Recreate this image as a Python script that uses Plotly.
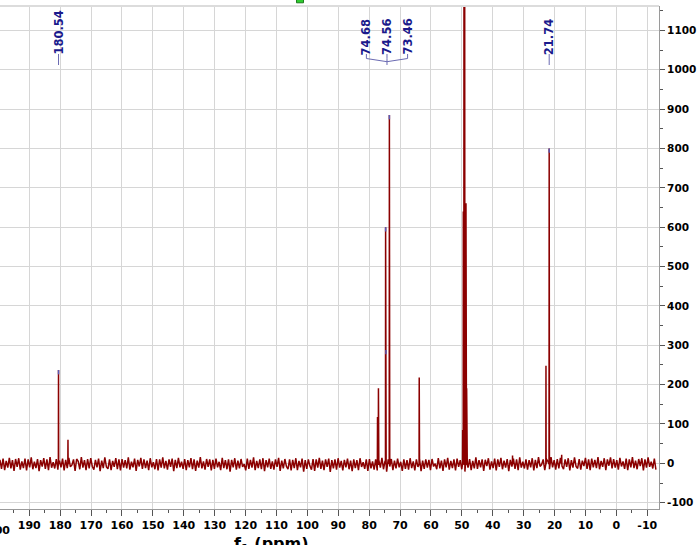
import numpy as np
import plotly.graph_objects as go

# ---------------- data ----------------
noise_ppm_start = 199.5
noise_ppm_end = -12.8
noise_values = [
    9, -14, 12, -17, 6, -11, 14, -13, 8, -19, 11, -9, 13, -16, 5, -12, 12, -18, 10, -10,
    15, -15, 4, -12, 11, -20, 8, -8, 13, -14, 10, -17, 16, -11, 3, -13, 11, -16, 7, -10,
    12, -18, 9, -12, 14, -9, -4, 10, -19, 11, 5, -15, 16, -11, 8, -17, 11, -13, 13, -8,
    -16, 9, -10, 12, -20, 7, -12, 15, -9, -14, 10, -17, 6, -9, 13, -15, 10, -18, 11, -11,
    8, -13, 15, -16, 4, -10, 12, -19, 9, -8, 14, -14, 10, -12, 7, -17, 13, -10, 3, -15,
    11, -18, 10, -11, 15, -13, 6, -16, 10, -9, 12, -20, 9, -12, 14, -10, 4, -14, 11, -17,
    8, -10, 13, -15, 10, -19, 7, -11, 16, -13, 5, -16, 11, -9, 10, -18, 9, -14, 12, -10,
    4, -17, 14, -12, 8, -15, 10, -21, 9, -10, 13, -16, 7, -13, 11, -9, -2, -18, 12, -14,
    9, -11, 15, -17, 6, -12, 10, -15, 13, -20, 8, -10, 12, -14, 5, -16, 10, -9, 14, -19,
    7, -13, 11, -8, -15, 10, -18, 9, -12, 13, -17, 6, -10, 12, -21, 8, -14, 10, -7, -16,
    11, -19, 10, -11, 14, -14, 7, -17, 10, -9, 12, -22, 8, -13, 10, -16, 13, -11, 6, -18,
    9, -10, 12, -15, 7, -20, 10, -12, 8, -17, 13, -9, 3, -14, 10, -19, 11, -13, 5, -16,
    10, -18, 9, -11, 14, -15, 6, -21, 10, -8, 11, -17, 7, -13, 12, -10, 4, -19, 10, -14,
    8, -16, 13, -12, 5, -18, 10, -9, 12, -20, 7, -14, 10, -11, 9, -17, 11, -8, -1, -15,
    13, -13, 7, -19, 10, -10, 14, -16, 6, -12, 10, -18, 12, -9, 8, -15, 10, -21, 9, -11,
    11, -17, 6, -13, 15, -14, 8, -10, 10, -19, 9, -7, 13, -16, 5, -12, 12, -18, 10, -9,
    14, -15, 7, -11, 11, -20, 9, -8, 12, -14, 10, -17, 15, -11, 4, -13, 10, -16, 8, -10,
    13, -18, 9, -12, 16, -8, -3, 10, -17, 11, 5, -15, 16, -10, 8, -16, 11, -13, 14, -7,
    -15, 10, -9, 13, -18, 8, -11, 15, -8, -13, 11, -16, 7, -7, 14, -14, 10, -17, 12, -10,
    9, -12, 16, -15, 6, -9, 13, -17, 10, -6, 15, -13, 11, -11, 8, -16, 14, -8, 5, -14,
    12, -17, 10, -10, 16, -12, 7, -15, 11, -7, 13, -18, 10, -11, 15, -9, 4, -13, 12, -16,
]

peak_ppm = [180.54, 177.48, 77.30, 77.00, 74.68, 74.56, 73.46, 63.80,
            49.74, 49.53, 49.32, 49.10, 48.88, 48.67, 48.45, 48.30,
            33.60, 22.78, 21.74, 17.70]
peak_height = [237, 60, 118, 191, 600, 288, 885, 218,
               85, 640, 1290, 1500, 1290, 661, 191, 59,
               20, 248, 800, 22]

picked_ppm = [180.54, 74.68, 74.56, 73.46, 21.74]
picked_height = [237, 600, 288, 885, 800]
picked_labels = ["180.54", "74.68", "74.56", "73.46", "21.74"]
picked_groups = [[0], [1, 2, 3], [4]]

x_tick_vals = [190, 180, 170, 160, 150, 140, 130, 120, 110, 100, 90, 80, 70,
               60, 50, 40, 30, 20, 10, 0, -10]
x_tick_text = ["190", "180", "170", "160", "150", "140", "130", "120", "110",
               "100", "90", "80", "70", "60", "50", "40", "30", "20", "10",
               "0", "-10"]
x_cut_label = "200"
y_tick_vals = [-100, 0, 100, 200, 300, 400, 500, 600, 700, 800, 900, 1000, 1100]
y_tick_text = ["-100", "0", "100", "200", "300", "400", "500", "600", "700",
               "800", "900", "1000", "1100"]
x_title = "f<sub>1</sub> (ppm)"

# ---------------- layout geometry ----------------
W, H = 697, 545
ML, MR, MT, MB = 0, 38, 6, 36
PW = W - ML - MR
PH = H - MT - MB
X_LEFT, X_RIGHT = 199.48, -13.8
Y_LOW, Y_HIGH = -116, 1162
PX_PER_PPM = PW / (X_LEFT - X_RIGHT)
PLOT_BOTTOM = H - MB


def py2paper(py):
    return (PLOT_BOTTOM - py) / PH


def px2paper(px):
    return (px - ML) / PW


# ---------------- build spectrum trace ----------------
noise_x = np.linspace(noise_ppm_start, noise_ppm_end, len(noise_values))
pts = list(zip(noise_x.tolist(), noise_values))
half_w = 0.05
base = -2
for p, h in zip(peak_ppm, peak_height):
    pts.append((p + half_w, base))
    pts.append((p, h))
    pts.append((p - half_w, base))
pts.sort(key=lambda t: -t[0])
spec_x = [t[0] for t in pts]
spec_y = [t[1] for t in pts]

fig = go.Figure()
fig.add_trace(go.Scatter(x=spec_x, y=spec_y, mode="lines",
                         line=dict(color="#8b0000", width=1.5),
                         hoverinfo="skip", showlegend=False))

# blue tips on picked peaks
bx, by = [], []
for p, h in zip(picked_ppm, picked_height):
    bx += [p, p, None]
    by += [h - 11, h, None]
fig.add_trace(go.Scatter(x=bx, y=by, mode="lines",
                         line=dict(color="#5a5ab4", width=1.5),
                         hoverinfo="skip", showlegend=False))

# ---------------- peak labels ----------------
label_color = "#1a1a8c"
conn_color = "#6a6ab2"
LABEL_SPREAD_PX = 20.6
text_bottom_py = 56
annotations = []
shapes = []
for grp in picked_groups:
    center_ppm = float(np.mean([picked_ppm[i] for i in grp]))
    n = len(grp)
    for k, i in enumerate(grp):
        off_px = (k - (n - 1) / 2) * LABEL_SPREAD_PX
        lx = center_ppm - off_px / PX_PER_PPM
        annotations.append(dict(
            x=lx, xref="x", y=py2paper(text_bottom_py), yref="paper",
            text="<b>%s</b>" % picked_labels[i], textangle=-90,
            showarrow=False, xanchor="center", yanchor="bottom",
            font=dict(family="DejaVu Sans", size=11.5, color=label_color),
            borderpad=0))
        if n == 1:
            shapes.append(dict(type="line", xref="x", yref="paper",
                               x0=lx, x1=lx, y0=py2paper(54), y1=py2paper(65),
                               line=dict(color=conn_color, width=1)))
        else:
            shapes.append(dict(type="line", xref="x", yref="paper",
                               x0=lx, x1=lx, y0=py2paper(54), y1=py2paper(58.5),
                               line=dict(color=conn_color, width=1)))
            shapes.append(dict(type="line", xref="x", yref="paper",
                               x0=lx, x1=center_ppm, y0=py2paper(58.5),
                               y1=py2paper(61.7),
                               line=dict(color=conn_color, width=1)))
    if n > 1:
        shapes.append(dict(type="line", xref="x", yref="paper",
                           x0=center_ppm, x1=center_ppm, y0=py2paper(61.7),
                           y1=py2paper(65),
                           line=dict(color=conn_color, width=1)))

# top border line
shapes.append(dict(type="line", xref="paper", yref="paper", x0=0, x1=1,
                   y0=1, y1=1, line=dict(color="#dcdcdc", width=2)))
# green marker square at the top edge
shapes.append(dict(type="rect", xref="paper", yref="paper",
                   x0=px2paper(296.5), x1=px2paper(303.5),
                   y0=py2paper(2.8), y1=py2paper(-2),
                   fillcolor="#2ecc2e", line=dict(color="#1f7a1f", width=1)))

# partly visible "200" tick label at the left edge
annotations.append(dict(x=px2paper(-2), xref="paper", y=py2paper(523),
                        yref="paper", text="<b>%s</b>" % x_cut_label,
                        showarrow=False, xanchor="center", yanchor="top",
                        font=dict(family="DejaVu Sans", size=11, color="black"),
                        borderpad=0))
# axis title (cut off at the bottom)
annotations.append(dict(x=px2paper(271), xref="paper", y=py2paper(533),
                        yref="paper", text="<b>%s</b>" % x_title,
                        showarrow=False, xanchor="center", yanchor="top",
                        font=dict(family="DejaVu Sans", size=16, color="black"),
                        borderpad=0))

fig.update_layout(
    width=W, height=H,
    margin=dict(l=ML, r=MR, t=MT, b=MB, pad=0),
    paper_bgcolor="white", plot_bgcolor="white",
    showlegend=False,
    annotations=annotations, shapes=shapes,
    xaxis=dict(range=[X_LEFT, X_RIGHT], tickvals=x_tick_vals,
               ticktext=x_tick_text, showgrid=True, gridcolor="#d6d6d6",
               gridwidth=1, zeroline=False, ticks="outside", ticklen=6,
               tickcolor="#555555", tickwidth=1, showline=True,
               linecolor="#9a9a9a", linewidth=1, automargin=False,
               tickfont=dict(family="DejaVu Sans", size=11, color="black",
                             weight="bold"),
               minor=dict(ticks="outside", ticklen=3, dtick=5, tick0=0,
                          tickcolor="#555555", showgrid=False)),
    yaxis=dict(range=[Y_LOW, Y_HIGH], side="right", tickvals=y_tick_vals,
               ticktext=y_tick_text, showgrid=True, gridcolor="#d6d6d6",
               gridwidth=1, zeroline=False, ticks="outside", ticklen=5,
               tickcolor="#555555", tickwidth=1, showline=True,
               linecolor="#9a9a9a", linewidth=1, automargin=False,
               tickfont=dict(family="DejaVu Sans", size=10.5, color="black",
                             weight="bold"),
               minor=dict(ticks="outside", ticklen=3, dtick=50, tick0=0,
                          tickcolor="#555555", showgrid=False)),
)

fig.write_html(
    "out.html",
    config={"displayModeBar": False},
    post_script="document.body.style.margin='0';document.body.style.overflow='hidden';",
)
